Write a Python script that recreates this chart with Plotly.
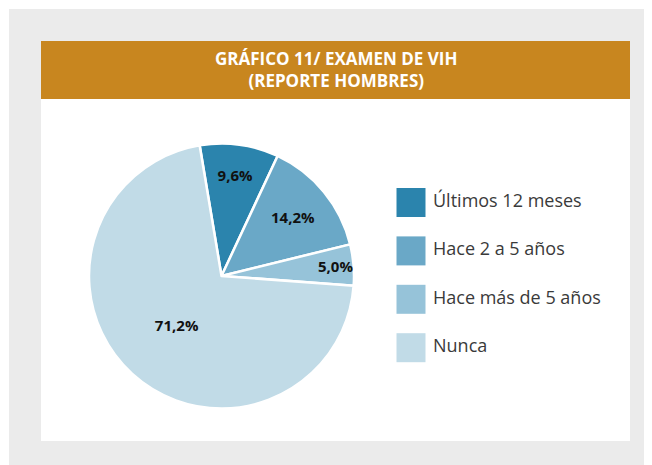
import plotly.graph_objects as go

categories = ["Últimos 12 meses", "Hace 2 a 5 años", "Hace más de 5 años", "Nunca"]
values = [9.6, 14.2, 5.0, 71.2]
labels_text = ["9,6%", "14,2%", "5,0%", "71,2%"]
colors = ["#2b84ad", "#6aa8c7", "#96c3d9", "#c1dbe7"]
title_text = "GRÁFICO 11/ EXAMEN DE VIH<br>(REPORTE HOMBRES)"

# page body has an 8px margin; the figure starts at (8, 8) in the window
OFF = 8
W, H = 652 - OFF, 465 - OFF

def px_x(p):
    return (p - OFF) / W

def px_y(p):
    return 1 - (p - OFF) / H

fig = go.Figure()

cx, cy, r = 221.5, 276, 132.5
fig.add_trace(go.Pie(
    values=values,
    labels=categories,
    text=labels_text,
    textinfo="text",
    textposition="inside",
    insidetextorientation="horizontal",
    textfont=dict(family="Open Sans", size=15, color="#111111", weight="bold"),
    marker=dict(colors=colors, line=dict(color="#ffffff", width=2.5)),
    sort=False,
    direction="clockwise",
    rotation=-9.5,
    showlegend=False,
    hoverinfo="skip",
    domain=dict(x=[px_x(cx - r), px_x(cx + r)], y=[px_y(cy + r), px_y(cy - r)]),
))

idx = list(range(len(categories)))
fig.add_trace(go.Scatter(
    x=[11] * len(categories), y=idx,
    mode="markers",
    marker=dict(symbol="square", size=29, color=colors, line=dict(width=0)),
    xaxis="x", yaxis="y", showlegend=False, hoverinfo="skip", cliponaxis=False,
))
fig.add_trace(go.Scatter(
    x=[33] * len(categories), y=idx,
    mode="text", text=categories, textposition="middle right",
    textfont=dict(family="Open Sans", size=18, color="#3a3a3a"),
    xaxis="x", yaxis="y", showlegend=False, hoverinfo="skip", cliponaxis=False,
))

step = 48.4
ytop = 202.5 - step / 2
ybot = ytop + step * 4
fig.update_layout(
    width=W, height=H,
    margin=dict(l=0, r=0, t=0, b=0),
    paper_bgcolor="#ffffff",
    plot_bgcolor="rgba(0,0,0,0)",
    uniformtext=dict(minsize=15, mode="show"),
    xaxis=dict(domain=[px_x(400), px_x(630)], range=[0, 230], visible=False, fixedrange=True),
    yaxis=dict(domain=[px_y(ybot), px_y(ytop)], range=[3.5, -0.5], visible=False, fixedrange=True),
    shapes=[
        dict(type="rect", xref="paper", yref="paper", x0=px_x(9), x1=1, y0=0, y1=px_y(9),
             fillcolor="#ebebeb", line=dict(width=0), layer="below"),
        dict(type="rect", xref="paper", yref="paper", x0=px_x(41), x1=px_x(630), y0=px_y(441), y1=px_y(41),
             fillcolor="#ffffff", line=dict(width=0), layer="below"),
        dict(type="rect", xref="paper", yref="paper", x0=px_x(41), x1=px_x(630), y0=px_y(99), y1=px_y(41),
             fillcolor="#c8861f", line=dict(width=0), layer="below"),
    ],
    annotations=[
        dict(text="<b>" + title_text.replace("<br>", "</b><br><b>") + "</b>",
             xref="paper", yref="paper", x=px_x(335.5), y=px_y(70),
             xanchor="center", yanchor="middle", showarrow=False,
             font=dict(family="Open Sans", size=17, color="#ffffff")),
    ],
)

fig.write_html("out.html")
